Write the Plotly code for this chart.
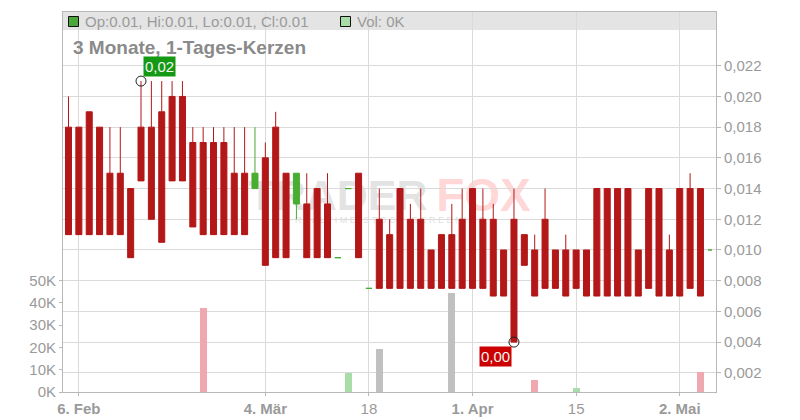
import plotly.graph_objects as go

# ---------------- data ----------------
day_idx = list(range(62))
open_ = [0.018, 0.018, 0.019, 0.018, 0.015, 0.015, 0.014, 0.018, 0.018, 0.019,
         0.020, 0.020, 0.017, 0.017, 0.017, 0.017, 0.015, 0.015, 0.014, 0.016,
         0.018, 0.015, 0.013, 0.013, 0.014, 0.013, 0.0095, 0.014, 0.015, 0.0075,
         0.012, 0.011, 0.014, 0.012, 0.012, 0.010, 0.011, 0.011, 0.012, 0.014,
         0.012, 0.012, 0.010, 0.012, 0.011, 0.010, 0.012, 0.010, 0.010, 0.010,
         0.010, 0.014, 0.014, 0.014, 0.014, 0.010, 0.014, 0.014, 0.010, 0.014,
         0.014, 0.014]
high = [0.020, 0.018, 0.019, 0.018, 0.018, 0.018, 0.014, 0.021, 0.021, 0.021,
        0.021, 0.021, 0.018, 0.018, 0.018, 0.018, 0.018, 0.018, 0.018, 0.017,
        0.019, 0.015, 0.015, 0.015, 0.014, 0.015, 0.0095, 0.014, 0.015, 0.0075,
        0.014, 0.012, 0.014, 0.013, 0.014, 0.010, 0.011, 0.013, 0.014, 0.014,
        0.014, 0.013, 0.010, 0.014, 0.011, 0.011, 0.014, 0.010, 0.011, 0.010,
        0.010, 0.014, 0.014, 0.014, 0.014, 0.010, 0.014, 0.014, 0.011, 0.014,
        0.015, 0.014]
low = [0.011, 0.011, 0.011, 0.011, 0.011, 0.011, 0.0095, 0.0145, 0.012, 0.0105,
       0.0145, 0.0145, 0.0115, 0.011, 0.011, 0.011, 0.011, 0.011, 0.014, 0.009,
       0.0095, 0.0095, 0.012, 0.0095, 0.0095, 0.0095, 0.0095, 0.014, 0.0095, 0.0075,
       0.0075, 0.0075, 0.0075, 0.0075, 0.0075, 0.0075, 0.0075, 0.0075, 0.0075, 0.0075,
       0.0075, 0.007, 0.007, 0.004, 0.009, 0.007, 0.0075, 0.0075, 0.007, 0.0075,
       0.007, 0.007, 0.007, 0.007, 0.007, 0.007, 0.0075, 0.007, 0.007, 0.007,
       0.0075, 0.007]
close = [0.011, 0.011, 0.011, 0.011, 0.011, 0.011, 0.0095, 0.0145, 0.012, 0.0105,
         0.0145, 0.0145, 0.0115, 0.011, 0.011, 0.011, 0.011, 0.011, 0.015, 0.009,
         0.0095, 0.0095, 0.015, 0.0095, 0.0095, 0.0095, 0.0095, 0.014, 0.0095, 0.0075,
         0.0075, 0.0075, 0.0075, 0.0075, 0.0075, 0.0075, 0.0075, 0.0075, 0.0075, 0.0075,
         0.0075, 0.007, 0.007, 0.004, 0.009, 0.007, 0.0075, 0.0075, 0.007, 0.0075,
         0.007, 0.007, 0.007, 0.007, 0.007, 0.007, 0.0075, 0.007, 0.007, 0.007,
         0.0075, 0.007]
green_days = [18, 22, 26, 27, 29]
volume = [0, 0, 0, 0, 0, 0, 0, 0, 0, 0,
          0, 0, 0, 37800, 0, 0, 0, 0, 0, 0,
          0, 0, 0, 0, 0, 0, 0, 8500, 0, 0,
          19400, 0, 0, 0, 0, 0, 0, 44500, 0, 0,
          0, 0, 0, 0, 0, 5500, 0, 0, 0, 1900,
          0, 0, 0, 0, 0, 0, 0, 0, 0, 0,
          0, 9100]
x_tick_idx = [1, 19, 29, 39, 49, 59]
x_tick_text = ["<b>6. Feb</b>", "<b>4. Mär</b>", "18", "<b>1. Apr</b>", "15", "<b>2. Mai</b>"]
price_ticks = [0.002, 0.004, 0.006, 0.008, 0.010, 0.012, 0.014, 0.016, 0.018, 0.020, 0.022]
vol_ticks = [0, 10000, 20000, 30000, 40000, 50000]
vol_tick_text = ["0K", "10K", "20K", "30K", "40K", "50K"]
high_mark = (7, 0.021, "0,02")
low_mark = (43, 0.004, "0,00")

# ---------------- styling ----------------
RED = "#b31717"
GREEN = "#49ad32"
VOL_DOWN = "#f0a8b0"
VOL_UP = "#a8dca8"
VOL_FLAT = "#c0c0c0"
GRID = "#dadada"
AXIS = "#b8b8b8"
TXT = "#9a9a9a"
FONT = "Liberation Sans, Arial, sans-serif"

vol_colors = []
for i, v in enumerate(volume):
    prev = close[i - 1] if i > 0 else close[i]
    if close[i] > prev:
        vol_colors.append(VOL_UP)
    elif close[i] < prev:
        vol_colors.append(VOL_DOWN)
    else:
        vol_colors.append(VOL_FLAT)

fig = go.Figure()

fig.add_trace(go.Bar(x=day_idx, y=volume, marker=dict(color=vol_colors, line=dict(width=0)),
                     width=0.68, yaxis="y", hoverinfo="skip"))


def sub(idx):
    return dict(x=[day_idx[i] for i in idx], open=[open_[i] for i in idx],
                high=[high[i] for i in idx], low=[low[i] for i in idx],
                close=[close[i] for i in idx])


red_idx = [i for i in day_idx if i not in green_days]
for idx, col in ((red_idx, RED), (green_days, GREEN)):
    style = dict(line=dict(color=col, width=1), fillcolor=col)
    fig.add_trace(go.Candlestick(**sub(idx), increasing=style, decreasing=style,
                                 whiskerwidth=0, yaxis="y2", hoverinfo="skip"))

fig.add_trace(go.Scatter(x=[high_mark[0], low_mark[0]], y=[high_mark[1], low_mark[1]],
                         mode="markers", yaxis="y2", hoverinfo="skip",
                         marker=dict(symbol="circle-open", size=10,
                                     color="#222222", line=dict(width=1, color="#222222"))))

# ---------------- layout ----------------
# desired on-screen plot area edges (the page body adds an 8px offset)
OFF = 8
L, R, T, B = 63, 84, 12, 28
W, H = 800, 420
PW, PH = W - L - R, H - T - B


def px(xp):
    return (xp - L) / PW


def py(yp):
    return (H - B - yp) / PH


shapes = [
    dict(type="rect", xref="x domain", yref="y domain", x0=0, x1=1, y0=py(30), y1=1,
         fillcolor="#e4e4e4", line=dict(width=0), layer="below"),
    dict(type="rect", xref="x domain", yref="y domain", x0=px(68.5), x1=px(78.5),
         y0=py(26.5), y1=py(16.5), fillcolor="#4aa83a", line=dict(color="#111", width=1), layer="above"),
    dict(type="rect", xref="x domain", yref="y domain", x0=px(340.5), x1=px(350.5),
         y0=py(26.5), y1=py(16.5), fillcolor="#a8dca8", line=dict(color="#111", width=1), layer="above"),
    dict(type="rect", xref="x domain", yref="y domain", x0=px(248), x1=px(428),
         y0=py(208), y1=py(174), line=dict(width=0), fillcolor="rgba(0,0,0,0)", layer="below",
         label=dict(text="TRADER", textposition="middle center",
                    font=dict(family=FONT, size=43, color="rgba(200,200,200,0.5)", weight="bold"))),
    dict(type="rect", xref="x domain", yref="y domain", x0=px(427), x1=px(540),
         y0=py(208), y1=py(174), line=dict(width=0), fillcolor="rgba(0,0,0,0)", layer="below",
         label=dict(text="FOX", textposition="middle center",
                    font=dict(family=FONT, size=46, color="rgba(255,150,150,0.38)", weight="bold"))),
    dict(type="rect", xref="x domain", yref="y domain", x0=px(250), x1=px(530),
         y0=py(226), y1=py(212), line=dict(width=0), fillcolor="rgba(0,0,0,0)", layer="below",
         label=dict(text="R E A L T I M E   S T O C K   S C R E E N I N G", textposition="middle center",
                    font=dict(family=FONT, size=9, color="rgba(190,190,190,0.5)"))),
    dict(type="line", xref="x domain", yref="y2", x0=px(708), x1=px(712), y0=0.010, y1=0.010,
         line=dict(color=GREEN, width=1.5)),
]

annotations = [
    dict(xref="x domain", yref="y domain", x=px(71), y=py(47.5), xanchor="left", yanchor="middle",
         text="<b>3 Monate, 1-Tages-Kerzen</b>", showarrow=False,
         font=dict(family=FONT, size=19, color="#8a8a8a")),
    dict(xref="x domain", yref="y domain", x=px(83), y=py(21.5), xanchor="left", yanchor="middle",
         text="Op:0.01, Hi:0.01, Lo:0.01, Cl:0.01", showarrow=False,
         font=dict(family=FONT, size=15, color=TXT)),
    dict(xref="x domain", yref="y domain", x=px(355), y=py(21.5), xanchor="left", yanchor="middle",
         text="Vol: 0K", showarrow=False, font=dict(family=FONT, size=15, color=TXT)),
    dict(xref="x", yref="y2", x=high_mark[0], y=high_mark[1], xanchor="left", yanchor="bottom",
         xshift=2, yshift=4, text=high_mark[2], showarrow=False, bgcolor="#149914", borderpad=1,
         font=dict(family=FONT, size=15, color="#f4f4f4")),
    dict(xref="x", yref="y2", x=low_mark[0], y=low_mark[1], xanchor="right", yanchor="top",
         xshift=-2, yshift=-4, text=low_mark[2], showarrow=False, bgcolor="#cc0000", borderpad=1,
         font=dict(family=FONT, size=15, color="#f4f4f4")),
]

fig.update_layout(
    width=W, height=H, margin=dict(l=L - OFF, r=R + OFF, t=T - OFF, b=B + OFF, pad=0),
    paper_bgcolor="white", plot_bgcolor="white", showlegend=False,
    separators=",.", bargap=0, boxgap=0.42, boxgroupgap=0,
    font=dict(family=FONT, size=15, color=TXT),
    xaxis=dict(range=[-0.53, 62.5], tickmode="array", tickvals=x_tick_idx, ticktext=x_tick_text,
               showgrid=True, gridcolor=GRID, gridwidth=1, showline=True, linecolor=AXIS,
               mirror=True, ticks="outside", ticklen=3, tickcolor=AXIS, zeroline=False,
               rangeslider=dict(visible=False), tickfont=dict(size=15, color=TXT)),
    yaxis=dict(range=[0, 170700], tickmode="array", tickvals=vol_ticks, ticktext=vol_tick_text,
               showgrid=False, showline=True, linecolor=AXIS, ticks="outside", ticklen=3,
               tickcolor=AXIS, zeroline=False, side="left", tickfont=dict(size=15, color=TXT)),
    yaxis2=dict(range=[0.00075, 0.0255], overlaying="y", side="right", tickmode="array",
                tickvals=price_ticks, tickformat=".3f", showgrid=True, gridcolor=GRID,
                showline=True, linecolor=AXIS, ticks="outside", ticklen=4, tickcolor=AXIS,
                zeroline=False, tickfont=dict(size=15, color=TXT)),
    shapes=shapes, annotations=annotations,
)

fig.write_html("out.html")
